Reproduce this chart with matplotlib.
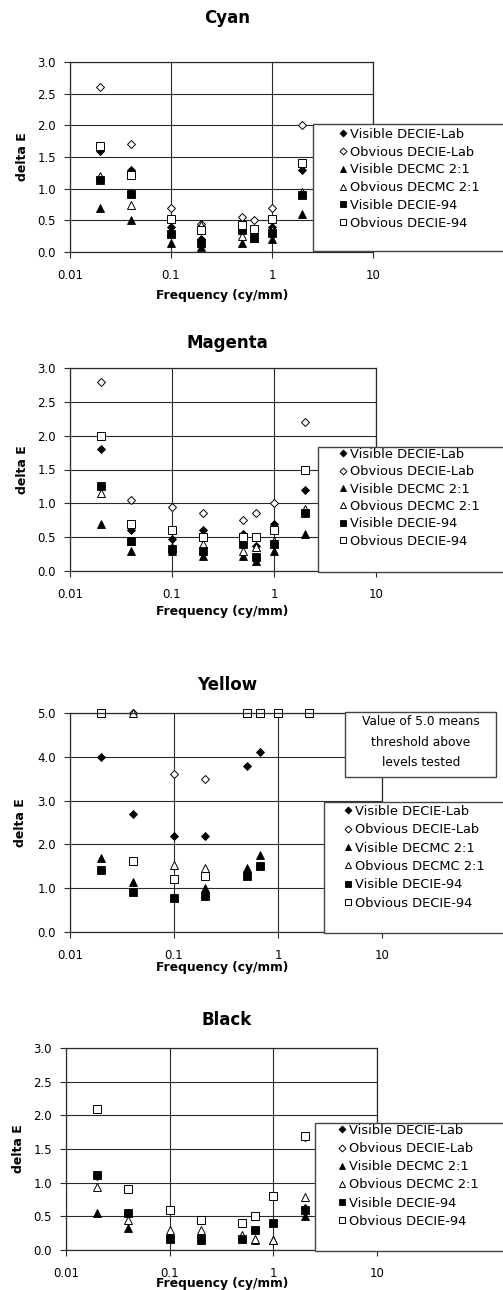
import matplotlib
matplotlib.use("Agg")
import matplotlib.pyplot as plt
from matplotlib.patches import Rectangle

plt.rcParams['font.family'] = ['DejaVu Sans']

# ---------------- data ----------------
freq = [0.02, 0.04, 0.1, 0.2, 0.5, 0.667, 1, 2]
series_labels = ["Visible DECIE-Lab", "Obvious DECIE-Lab", "Visible DECMC 2:1",
                 "Obvious DECMC 2:1", "Visible DECIE-94", "Obvious DECIE-94"]

cyan_vis_lab = [1.6, 1.3, 0.4, 0.2, 0.35, 0.3, 0.4, 1.3]
cyan_obv_lab = [2.6, 1.7, 0.7, 0.45, 0.55, 0.5, 0.7, 2.0]
cyan_vis_cmc = [0.7, 0.5, 0.15, 0.08, 0.15, 0.22, 0.2, 0.6]
cyan_obv_cmc = [1.2, 0.75, 0.3, 0.42, 0.25, 0.3, 0.35, 0.95]
cyan_vis_94 = [1.13, 0.92, 0.28, 0.15, 0.35, 0.22, 0.3, 0.9]
cyan_obv_94 = [1.67, 1.21, 0.52, 0.34, 0.42, 0.37, 0.52, 1.4]

magenta_vis_lab = [1.8, 0.6, 0.48, 0.6, 0.55, 0.37, 0.7, 1.2]
magenta_obv_lab = [2.8, 1.05, 0.95, 0.85, 0.75, 0.85, 1.0, 2.2]
magenta_vis_cmc = [0.7, 0.3, 0.3, 0.22, 0.22, 0.15, 0.3, 0.55]
magenta_obv_cmc = [1.15, 0.45, 0.35, 0.4, 0.3, 0.35, 0.45, 0.92]
magenta_vis_94 = [1.25, 0.45, 0.33, 0.3, 0.4, 0.2, 0.4, 0.85]
magenta_obv_94 = [2.0, 0.7, 0.6, 0.5, 0.5, 0.5, 0.6, 1.5]

yellow_vis_lab = [4.0, 2.7, 2.2, 2.2, 3.8, 4.1, 5.0, 5.0]
yellow_obv_lab = [5.0, 5.0, 3.6, 3.5, 5.0, 5.0, 5.0, 5.0]
yellow_vis_cmc = [1.7, 1.15, 0.8, 1.0, 1.45, 1.75, 5.0, 5.0]
yellow_obv_cmc = [5.0, 5.0, 1.52, 1.47, 5.0, 5.0, 5.0, 5.0]
yellow_vis_94 = [1.42, 0.92, 0.78, 0.82, 1.27, 1.5, 5.0, 5.0]
yellow_obv_94 = [5.0, 1.62, 1.22, 1.27, 5.0, 5.0, 5.0, 5.0]

black_vis_lab = [1.1, 0.55, 0.2, 0.15, 0.2, 0.3, 0.4, 0.63]
black_obv_lab = [2.1, 0.9, 0.6, 0.45, 0.4, 0.5, 0.8, 1.68]
black_vis_cmc = [0.55, 0.33, 0.18, 0.15, 0.18, 0.15, 0.15, 0.5]
black_obv_cmc = [0.93, 0.45, 0.3, 0.3, 0.22, 0.17, 0.15, 0.79]
black_vis_94 = [1.11, 0.55, 0.16, 0.16, 0.17, 0.3, 0.4, 0.6]
black_obv_94 = [2.1, 0.9, 0.59, 0.45, 0.4, 0.5, 0.8, 1.69]

xticks = [0.01, 0.1, 1, 10]
xtick_labels = ["0.01", "0.1", "1", "10"]

# ---------------- layout (pixels) ----------------
W, H = 503, 1290
fig = plt.figure(figsize=(W / 100, H / 100), dpi=100)


def fx(px):
    return px / W


def fy(py):
    return 1 - py / H


markers = [
    dict(marker='D', ms=4.4, mfc='black', mec='black', mew=0.6),
    dict(marker='D', ms=4.4, mfc='white', mec='black', mew=0.7),
    dict(marker='^', ms=6.0, mfc='black', mec='black', mew=0.6),
    dict(marker='^', ms=6.0, mfc='white', mec='black', mew=0.7),
    dict(marker='s', ms=5.8, mfc='black', mec='black', mew=0.6),
    dict(marker='s', ms=5.8, mfc='white', mec='black', mew=0.7),
]

panels = [
    dict(title="Cyan", data=[cyan_vis_lab, cyan_obv_lab, cyan_vis_cmc, cyan_obv_cmc, cyan_vis_94, cyan_obv_94],
         ax=(70, 62, 373, 252), ymax=3.0, ystep=0.5, title_y=18, xlabel_y=295, ylabel_x=23,
         leg=(313, 124, 251), leg_marker_x=343, leg_row0=136, leg_dy=20.4),
    dict(title="Magenta", data=[magenta_vis_lab, magenta_obv_lab, magenta_vis_cmc, magenta_obv_cmc, magenta_vis_94, magenta_obv_94],
         ax=(70, 368, 376, 571), ymax=3.0, ystep=0.5, title_y=343, xlabel_y=612, ylabel_x=23,
         leg=(318, 447, 572), leg_marker_x=343, leg_row0=456, leg_dy=20.0),
    dict(title="Yellow", data=[yellow_vis_lab, yellow_obv_lab, yellow_vis_cmc, yellow_obv_cmc, yellow_vis_94, yellow_obv_94],
         ax=(70, 713, 382, 932), ymax=5.0, ystep=1.0, title_y=685, xlabel_y=967, ylabel_x=20,
         leg=(324, 802, 933), leg_marker_x=348, leg_row0=813, leg_dy=21.0),
    dict(title="Black", data=[black_vis_lab, black_obv_lab, black_vis_cmc, black_obv_cmc, black_vis_94, black_obv_94],
         ax=(66, 1048, 377, 1250), ymax=3.0, ystep=0.5, title_y=1020, xlabel_y=1284, ylabel_x=18,
         leg=(315, 1123, 1251), leg_marker_x=342, leg_row0=1132, leg_dy=20.8),
]

grid_color = '#2a2a2a'

for p in panels:
    l, t, r, b = p['ax']
    ax = fig.add_axes([fx(l), fy(b), (r - l) / W, (b - t) / H])
    ax.set_xscale('log')
    ax.set_xlim(0.01, 10)
    ax.set_ylim(0, p['ymax'])
    n = int(round(p['ymax'] / p['ystep']))
    yt = [i * p['ystep'] for i in range(n + 1)]
    ax.set_yticks(yt)
    ax.set_yticklabels([f"{v:.1f}" for v in yt])
    ax.set_xticks(xticks)
    ax.set_xticklabels(xtick_labels)
    ax.minorticks_off()
    ax.tick_params(axis='y', direction='out', length=4, width=0.8, pad=6, labelsize=8.5, color=grid_color)
    ax.tick_params(axis='x', direction='out', length=4, width=0.8, pad=8, labelsize=8.5, color=grid_color)
    ax.grid(True, which='major', color=grid_color, lw=0.8)
    ax.set_axisbelow(True)
    for s in ax.spines.values():
        s.set_color(grid_color)
        s.set_linewidth(0.9)
    handles = []
    for vals, mk, lab in zip(p['data'], markers, series_labels):
        h, = ax.plot(freq, vals, linestyle='none', clip_on=False, label=lab, **mk)
        handles.append(h)

    # titles / labels
    fig.text(fx(227), fy(p['title_y']), p['title'], ha='center', va='center',
             fontsize=12, fontweight='bold')
    fig.text(fx(222), fy(p['xlabel_y']), "Frequency (cy/mm)", ha='center', va='center',
             fontsize=8.8, fontweight='bold')
    fig.text(fx(p['ylabel_x']), fy((t + b) / 2), "delta E", ha='center', va='center',
             rotation=90, fontsize=9, fontweight='bold')

    # legend frame (runs off the right edge)
    lx, lt, lb = p['leg']
    fig.patches.append(Rectangle((fx(lx), fy(lb)), 1.2, (lb - lt) / H, transform=fig.transFigure,
                                 facecolor='white', edgecolor='#444444', lw=1.0, zorder=2))
    fs = 9.4
    fs_px = fs * 100 / 72
    hl = 0.7
    leg = fig.legend(handles=handles, loc='upper left',
                     bbox_to_anchor=(fx(p['leg_marker_x'] - hl * fs_px / 2), fy(p['leg_row0'] - 8)),
                     frameon=False, fontsize=fs, handlelength=hl, handletextpad=0.2,
                     borderpad=0, borderaxespad=0, labelspacing=(p['leg_dy'] - 1.2 * fs_px) / fs_px,
                     markerscale=0.8)
    leg.set_zorder(5)

    if p['title'] == "Yellow":
        fig.patches.append(Rectangle((fx(345), fy(777)), (496 - 345) / W, (777 - 712) / H,
                                     transform=fig.transFigure, facecolor='white',
                                     edgecolor='#444444', lw=1.0, zorder=2))
        for txt, yy in zip(["Value of 5.0 means", "threshold above", "levels tested"], [722, 743, 763]):
            fig.text(fx(421), fy(yy), txt, ha='center', va='center', fontsize=8.8, zorder=6)

fig.savefig("out.png", dpi=100)
